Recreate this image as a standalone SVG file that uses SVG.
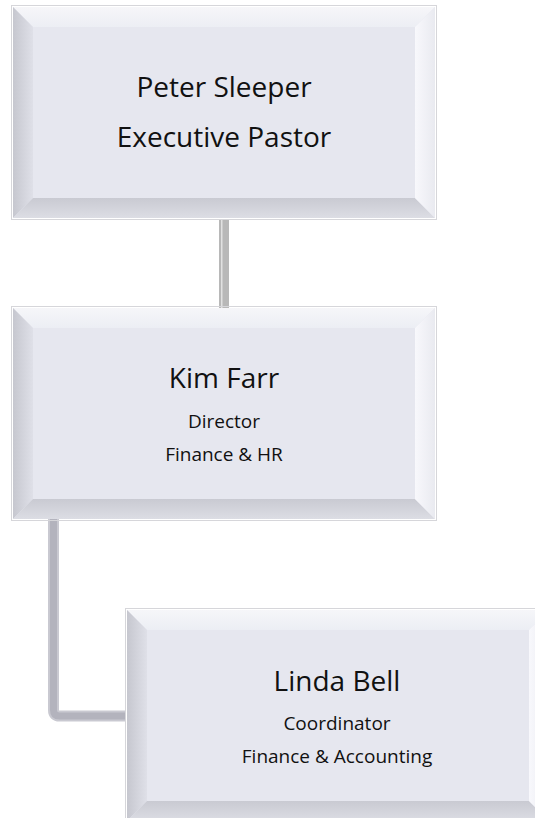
<svg xmlns="http://www.w3.org/2000/svg" width="535" height="818" viewBox="0 0 535 818">
  <defs>
    <linearGradient id="gTop" x1="0" y1="0" x2="0" y2="1">
      <stop offset="0" stop-color="#f6f6f9"/>
      <stop offset="1" stop-color="#eceef4"/>
    </linearGradient>
    <linearGradient id="gLeft" x1="0" y1="0" x2="1" y2="0">
      <stop offset="0" stop-color="#c6c7cf"/>
      <stop offset="1" stop-color="#dfe0e8"/>
    </linearGradient>
    <linearGradient id="gBottom" x1="0" y1="0" x2="0" y2="1">
      <stop offset="0" stop-color="#c9cad2"/>
      <stop offset="1" stop-color="#dcdde4"/>
    </linearGradient>
    <linearGradient id="gRight" x1="0" y1="0" x2="1" y2="0">
      <stop offset="0" stop-color="#f8f8fc"/>
      <stop offset="1" stop-color="#e9eaf0"/>
    </linearGradient>
    <g id="bevel">
      <rect x="-1.5" y="-1.5" width="425" height="214" fill="none" stroke="#d6d6da" stroke-width="1"/>
      <rect x="0" y="0" width="422" height="211" fill="#e6e7ef"/>
      <polygon points="0,0 422,0 402,20 20,20" fill="url(#gTop)"/>
      <polygon points="0,0 20,20 20,191 0,211" fill="url(#gLeft)"/>
      <polygon points="0,211 20,191 402,191 422,211" fill="url(#gBottom)"/>
      <polygon points="422,0 422,211 402,191 402,20" fill="url(#gRight)"/>
    </g>
  </defs>
  <style>
    .name { font-family: "Open Sans", "Noto Sans", sans-serif; font-size: 28px; fill: #111111; text-anchor: middle; }
    .sub { font-family: "Open Sans", "Noto Sans", sans-serif; font-size: 19px; fill: #111111; text-anchor: middle; }
  </style>
  <rect width="535" height="818" fill="#ffffff"/>
  <g id="connectors">
    <rect x="219" y="219" width="10" height="89" fill="#b8b8b8"/>
    <line x1="221.8" y1="219" x2="221.8" y2="308" stroke="#ececec" stroke-width="1.2"/>
    <path d="M 53.5 518 V 710 Q 53.5 716 59.5 716 H 126" fill="none" stroke="#c9c9d1" stroke-width="11"/>
    <path d="M 53.5 518 V 710 Q 53.5 716 59.5 716 H 126" fill="none" stroke="#b3b3bd" stroke-width="7"/>
  </g>
  <g id="node-peter">
    <use href="#bevel" x="13" y="7"/>
    <text class="name" x="224" y="97">Peter Sleeper</text>
    <text class="name" x="224" y="147">Executive Pastor</text>
  </g>
  <g id="node-kim">
    <use href="#bevel" x="13" y="308"/>
    <text class="name" x="224" y="388">Kim Farr</text>
    <text class="sub" x="224" y="428">Director</text>
    <text class="sub" x="224" y="461">Finance &amp; HR</text>
  </g>
  <g id="node-linda">
    <use href="#bevel" x="127" y="610"/>
    <text class="name" x="337" y="691">Linda Bell</text>
    <text class="sub" x="337" y="730">Coordinator</text>
    <text class="sub" x="337" y="763">Finance &amp; Accounting</text>
  </g>
</svg>
